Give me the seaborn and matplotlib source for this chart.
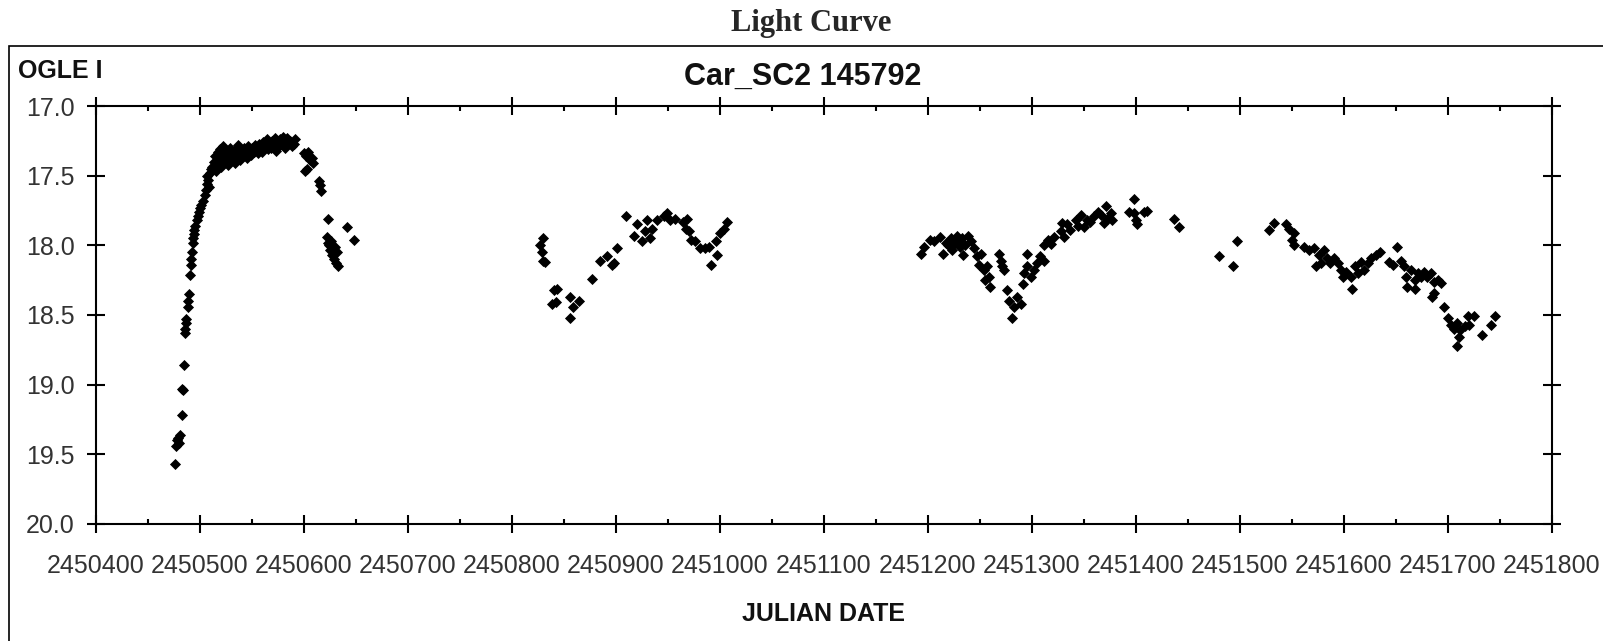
import matplotlib
matplotlib.use("Agg")
import matplotlib.pyplot as plt
from matplotlib.ticker import MultipleLocator, FuncFormatter
from matplotlib.patches import Rectangle
import seaborn as sns
import pandas as pd

# ---- data (Julian date, OGLE I magnitude) ----
jd_season1 = [
    2450476, 2450477, 2450478, 2450479, 2450480, 2450481, 2450483, 2450483, 2450484, 2450485,
    2450486, 2450486, 2450487, 2450487, 2450488, 2450488, 2450489, 2450490, 2450491, 2450491,
    2450492, 2450493, 2450493, 2450494, 2450494, 2450495, 2450497, 2450498, 2450499, 2450500,
    2450501, 2450503, 2450505,
    2450506, 2450507, 2450507, 2450508, 2450509, 2450510, 2450511,
    2450512, 2450513, 2450514, 2450515, 2450516, 2450517, 2450518, 2450519, 2450520, 2450521,
    2450522, 2450523, 2450524, 2450525, 2450526, 2450527, 2450528, 2450529, 2450530, 2450531,
    2450533, 2450534, 2450535, 2450536, 2450537, 2450538, 2450540, 2450541, 2450542, 2450544,
    2450545, 2450546, 2450548, 2450549, 2450550, 2450552, 2450553, 2450555, 2450556, 2450557,
    2450558, 2450560, 2450561, 2450562, 2450564, 2450565, 2450566, 2450568, 2450569, 2450570,
    2450572, 2450573, 2450574, 2450576, 2450577, 2450578, 2450580, 2450581, 2450582, 2450584,
    2450585, 2450587, 2450588, 2450590, 2450591,
    2450600, 2450602, 2450604, 2450606, 2450608, 2450609, 2450601, 2450603,
    2450614, 2450616, 2450615, 2450623,
    2450622, 2450623, 2450624, 2450625, 2450627, 2450629, 2450631, 2450633, 2450626, 2450630,
    2450632, 2450641, 2450648,
]
mag_season1 = [
    19.57, 19.44, 19.40, 19.38, 19.42, 19.36, 19.22, 19.03, 19.04, 18.86,
    18.63, 18.60, 18.56, 18.53, 18.44, 18.40, 18.35, 18.21, 18.14, 18.10,
    18.05, 17.98, 17.95, 17.92, 17.89, 17.86, 17.82, 17.79, 17.76, 17.73,
    17.71, 17.68, 17.64,
    17.60, 17.56, 17.50, 17.53, 17.58, 17.48, 17.45,
    17.44, 17.40, 17.36, 17.47, 17.42, 17.33, 17.38, 17.31, 17.44, 17.36,
    17.29, 17.34, 17.40, 17.32, 17.37, 17.42, 17.35, 17.30, 17.38, 17.33,
    17.36, 17.41, 17.31, 17.35, 17.28, 17.39, 17.33, 17.36, 17.30, 17.34,
    17.37, 17.29, 17.32, 17.35, 17.30, 17.33, 17.28, 17.31, 17.34, 17.27,
    17.30, 17.33, 17.26, 17.29, 17.24, 17.31, 17.27, 17.30, 17.25, 17.28,
    17.23, 17.32, 17.26, 17.29, 17.24, 17.27, 17.22, 17.25, 17.30, 17.23,
    17.27, 17.25, 17.29, 17.27, 17.24,
    17.34, 17.36, 17.33, 17.39, 17.37, 17.41, 17.47, 17.45,
    17.54, 17.61, 17.57, 17.81,
    17.94, 17.98, 18.00, 18.03, 18.07, 18.10, 18.13, 18.15, 17.97, 18.01,
    18.05, 17.87, 17.96,
]

jd_season2 = [
    2450830, 2450827, 2450829, 2450830, 2450832,
    2450840, 2450843, 2450838, 2450842,
    2450856, 2450859, 2450856, 2450864,
    2450877,
    2450885, 2450891, 2450898, 2450901, 2450896,
    2450910,
    2450917, 2450920, 2450925, 2450930, 2450933, 2450935, 2450928,
    2450939, 2450946, 2450949, 2450952, 2450957,
    2450964, 2450968, 2450967, 2450970, 2450972, 2450976, 2450981, 2450986, 2450989,
    2450991, 2450997, 2450996, 2451000, 2451004, 2451007,
]
mag_season2 = [
    17.95, 18.00, 18.05, 18.11, 18.12,
    18.32, 18.31, 18.42, 18.41,
    18.37, 18.44, 18.52, 18.40,
    18.24,
    18.11, 18.08, 18.13, 18.02, 18.14,
    17.79,
    17.93, 17.85, 17.97, 17.82, 17.95, 17.88, 17.90,
    17.82, 17.79, 17.77, 17.82, 17.81,
    17.83, 17.81, 17.88, 17.90, 17.96, 17.97, 18.02, 18.02, 18.01,
    18.14, 18.07, 17.97, 17.91, 17.88, 17.83,
]

jd_season3 = [
    2451193, 2451196, 2451202, 2451206, 2451212, 2451214,
    2451219, 2451223, 2451228, 2451231, 2451234, 2451238, 2451241, 2451233, 2451227, 2451222,
    2451217, 2451225, 2451236, 2451229,
    2451244, 2451247, 2451251, 2451249, 2451254, 2451257, 2451259, 2451260, 2451255,
    2451268, 2451270, 2451273, 2451271,
    2451276, 2451278, 2451283, 2451281, 2451286, 2451289, 2451291,
    2451292, 2451295, 2451299, 2451302, 2451305, 2451308, 2451295, 2451312,
    2451312, 2451315, 2451318, 2451321, 2451328, 2451331, 2451334, 2451329,
    2451337, 2451342, 2451347, 2451350, 2451353, 2451360, 2451363, 2451366, 2451371, 2451372,
    2451376, 2451377, 2451369, 2451356, 2451344,
    2451398, 2451393, 2451400, 2451401, 2451408, 2451411, 2451398,
    2451437, 2451441,
]
mag_season3 = [
    18.06, 18.01, 17.96, 17.97, 17.94, 18.06,
    18.00, 18.03, 17.93, 18.01, 18.07, 17.93, 17.97, 17.95, 17.97, 17.95,
    17.98, 17.99, 18.00, 17.98,
    18.02, 18.08, 18.06, 18.14, 18.18, 18.15, 18.23, 18.30, 18.25,
    18.06, 18.11, 18.18, 18.15,
    18.32, 18.40, 18.44, 18.52, 18.37, 18.42, 18.28,
    18.20, 18.15, 18.23, 18.18, 18.13, 18.08, 18.06, 18.11,
    18.00, 17.96, 17.99, 17.94, 17.90, 17.94, 17.85, 17.84,
    17.89, 17.82, 17.78, 17.87, 17.82, 17.79, 17.76, 17.78, 17.72, 17.81,
    17.77, 17.82, 17.84, 17.83, 17.86,
    17.67, 17.76, 17.82, 17.85, 17.76, 17.75, 17.77,
    17.81, 17.87,
]

jd_season4 = [
    2451480, 2451493, 2451497,
    2451528, 2451533,
    2451544, 2451547, 2451552, 2451550, 2451552,
    2451562, 2451566, 2451571, 2451576, 2451581, 2451584, 2451573, 2451578, 2451587, 2451590,
    2451594, 2451597, 2451599, 2451602, 2451608, 2451607, 2451611, 2451613, 2451616, 2451619,
    2451623, 2451626, 2451631, 2451635, 2451643, 2451651, 2451647,
    2451655, 2451658, 2451660, 2451664, 2451668, 2451661, 2451668, 2451671, 2451674, 2451677,
    2451680, 2451684, 2451687, 2451690, 2451693, 2451687, 2451685,
    2451696,
    2451700, 2451703, 2451706, 2451709, 2451712, 2451711, 2451709, 2451716, 2451719, 2451725,
    2451720, 2451733, 2451741, 2451745,
]
mag_season4 = [
    18.08, 18.15, 17.97,
    17.89, 17.84,
    17.85, 17.88, 17.91, 17.96, 18.00,
    18.01, 18.03, 18.02, 18.07, 18.03, 18.09, 18.15, 18.13, 18.13, 18.09,
    18.13, 18.18, 18.23, 18.19, 18.31, 18.23, 18.15, 18.20, 18.12, 18.18,
    18.13, 18.09, 18.07, 18.05, 18.12, 18.01, 18.14,
    18.11, 18.15, 18.23, 18.18, 18.25, 18.30, 18.31, 18.20, 18.23, 18.19,
    18.23, 18.20, 18.26, 18.25, 18.27, 18.34, 18.37,
    18.44,
    18.52, 18.57, 18.60, 18.56, 18.61, 18.66, 18.72, 18.58, 18.51, 18.51,
    18.57, 18.64, 18.57, 18.51,
]

x_ticks = [2450400, 2450500, 2450600, 2450700, 2450800, 2450900, 2451000,
           2451100, 2451200, 2451300, 2451400, 2451500, 2451600, 2451700, 2451800]
y_ticks = [17.0, 17.5, 18.0, 18.5, 19.0, 19.5, 20.0]

page_title = "Light Curve"
plot_title = "Car_SC2 145792"
band_label = "OGLE I"
x_label = "JULIAN DATE"

df = pd.DataFrame({
    "jd": jd_season1 + jd_season2 + jd_season3 + jd_season4,
    "mag": mag_season1 + mag_season2 + mag_season3 + mag_season4,
})

sns.set_style("white")
plt.rcParams["font.family"] = ["Liberation Sans", "DejaVu Sans"]

W, H = 1603, 641
fig = plt.figure(figsize=(W / 100, H / 100), dpi=100)
ax = fig.add_axes([96 / W, 1 - 524 / H, (1552 - 96) / W, (524 - 106) / H])

sns.scatterplot(data=df, x="jd", y="mag", ax=ax, marker="D", color="black",
                s=32, linewidth=0, legend=False)

ax.set_xlim(x_ticks[0], x_ticks[-1])
ax.set_ylim(y_ticks[-1], y_ticks[0])
ax.set_xticks(x_ticks)
ax.set_yticks(y_ticks)
ax.xaxis.set_minor_locator(MultipleLocator(50))
ax.xaxis.set_major_formatter(FuncFormatter(lambda v, p: f"{int(round(v))}"))
ax.yaxis.set_major_formatter(FuncFormatter(lambda v, p: f"{v:.1f}"))
ax.set_xlabel("")
ax.set_ylabel("")

for s in ax.spines.values():
    s.set_visible(True)
    s.set_color("black")
    s.set_linewidth(1.5)

ax.tick_params(which="major", direction="inout", length=13, width=1.5, color="black",
               top=True, right=True, bottom=True, left=True,
               labelsize=18, labelcolor="#333333")
ax.tick_params(axis="x", which="major", pad=15)
ax.tick_params(axis="y", which="major", pad=9)
ax.tick_params(axis="x", which="minor", direction="in", length=3.8, width=1.5,
               color="black", top=True, bottom=True)

# outer frame
fig.patches.append(Rectangle((9 / W, -0.2), 1.2, 1.2 - 46 / H, transform=fig.transFigure,
                             fill=False, edgecolor="black", linewidth=1.2, clip_on=False))

fig.text(811 / W, 1 - 23 / H, page_title, ha="center", va="center",
         fontsize=22, fontweight="bold", family=["Liberation Serif", "DejaVu Serif"])
fig.text(18 / W, 1 - 71 / H, band_label, ha="left", va="center",
         fontsize=18, fontweight="bold", color="#111111")
fig.text(803 / W, 1 - 77 / H, plot_title, ha="center", va="center",
         fontsize=22, fontweight="bold", color="#111111")
fig.text((96 + 1552) / 2 / W, 1 - 614 / H, x_label, ha="center", va="center",
         fontsize=18, fontweight="bold", color="#111111")

fig.savefig("out.png", dpi=100, facecolor="white")
